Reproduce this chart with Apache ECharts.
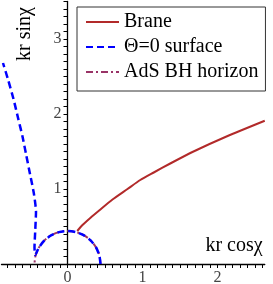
<!DOCTYPE html>
<html><head><meta charset="utf-8">
<script src="https://cdn.jsdelivr.net/npm/echarts@6/dist/echarts.min.js"></script>
<style>html,body{margin:0;padding:0;background:#fff}#c{width:273px;height:284px}</style>
</head><body><div id="c"></div>
<script>
// Brane
const braneX = [0.13, 0.20, 0.30, 0.43, 0.60, 0.80, 0.97, 1.15, 1.37, 1.68, 2.12, 2.63];
const braneY = [0.44, 0.52, 0.61, 0.72, 0.86, 1.00, 1.12, 1.22, 1.34, 1.50, 1.70, 1.91];
// Theta = 0 surface
const thetaX = [0.44, 0.425, 0.381, 0.311, 0.22, 0.114, 0, -0.114, -0.22, -0.311, -0.381, -0.43, -0.44, -0.43, -0.42, -0.45, -0.50, -0.55, -0.60, -0.66, -0.72, -0.79, -0.86];
const thetaY = [0, 0.114, 0.22, 0.311, 0.381, 0.425, 0.44, 0.425, 0.381, 0.311, 0.22, 0.12, 0.22, 0.45, 0.70, 0.95, 1.20, 1.45, 1.70, 1.95, 2.20, 2.45, 2.68];
// AdS BH horizon
const horX = [0.44, 0.425, 0.381, 0.311, 0.22, 0.114, 0, -0.114, -0.22, -0.311, -0.381, -0.425, -0.44];
const horY = [0, 0.114, 0.22, 0.311, 0.381, 0.425, 0.44, 0.425, 0.381, 0.311, 0.22, 0.114, 0];
const xLabels = [0, 1, 2];
const yLabels = [1, 2, 3];
const names = ['Brane', 'Θ=0 surface', 'AdS BH horizon'];

const zip = (a, b) => a.map((v, i) => [v, b[i]]);
const xTicks = []; for (let i = -8; i <= 26; i++) xTicks.push(+(i / 10).toFixed(1));
const yTicks = []; for (let i = 0; i <= 35; i++) yTicks.push(+(i / 10).toFixed(1));
const serif = 'Liberation Serif';
const xMin = -0.88, xMax = 2.63, yMax = 3.5, unit = 75;

const chart = echarts.init(document.getElementById('c'));
chart.setOption({
  animation: false,
  backgroundColor: '#fff',
  grid: { left: 67.5 + xMin * unit, top: 264 - yMax * unit, width: (xMax - xMin) * unit, height: yMax * unit, containLabel: false, outerBoundsMode: 'none' },
  xAxis: {
    type: 'value', min: xMin, max: xMax,
    axisLine: { onZero: false, lineStyle: { color: '#000', width: 1.3 } },
    axisTick: { show: true, length: 4, customValues: xTicks, lineStyle: { color: '#000', width: 1 } },
    axisLabel: { customValues: xLabels, margin: 6, fontFamily: serif, fontSize: 16, color: '#444' },
    splitLine: { show: false }
  },
  yAxis: {
    type: 'value', min: 0, max: yMax, position: 'left', offset: xMin * unit,
    axisLine: { show: true, onZero: false, lineStyle: { color: '#000', width: 1.3 } },
    axisTick: { show: true, length: 4, customValues: yTicks, lineStyle: { color: '#000', width: 1 } },
    axisLabel: { customValues: yLabels, margin: 6, fontFamily: serif, fontSize: 16, color: '#444' },
    splitLine: { show: false }
  },
  legend: {
    orient: 'vertical', left: 77, top: 7,
    data: names,
    itemWidth: 33, itemHeight: 14, itemGap: 5,
    padding: [5, 7, 9, 8],
    borderColor: '#333', borderWidth: 1, backgroundColor: '#fff',
    itemStyle: { opacity: 0 },
    textStyle: { fontFamily: serif, fontSize: 20, color: '#000' }
  },
  graphic: [
    { type: 'text', x: 25, y: 34, rotation: Math.PI / 2,
      style: { text: 'kr sinχ', fontFamily: serif, fontSize: 20, fill: '#000', align: 'center', verticalAlign: 'middle' } },
    { type: 'text', x: 234, y: 246,
      style: { text: 'kr cosχ', fontFamily: serif, fontSize: 20, fill: '#000', align: 'center', verticalAlign: 'middle' } }
  ],
  series: [
    { name: names[2], type: 'line', data: zip(horX, horY), symbol: 'none', smooth: 0.4, z: 2,
      lineStyle: { color: '#993366', width: 2, type: [7, 3, 2, 3] }, itemStyle: { color: '#993366' } },
    { name: names[1], type: 'line', data: zip(thetaX, thetaY), symbol: 'none', smooth: 0.2, z: 3,
      lineStyle: { color: '#0000ff', width: 2.5, type: [7, 4] }, itemStyle: { color: '#0000ff' } },
    { name: names[0], type: 'line', data: zip(braneX, braneY), symbol: 'none', smooth: 0.2, z: 4,
      lineStyle: { color: '#b22a2a', width: 2 }, itemStyle: { color: '#b22a2a' } }
  ]
});
</script></body></html>
